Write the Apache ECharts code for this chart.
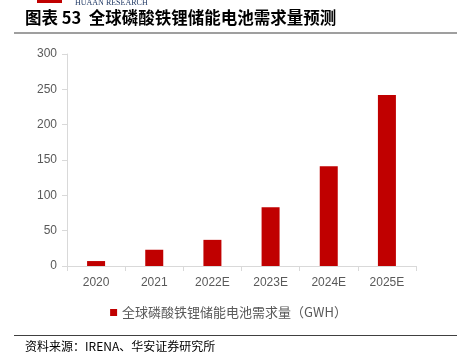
<!DOCTYPE html>
<html><head><meta charset="utf-8">
<script src="https://cdn.jsdelivr.net/npm/echarts@6/dist/echarts.min.js"></script>
<style>html,body{margin:0;padding:0;background:#fff}#c{width:457px;height:362px}</style>
</head><body><div id="c"></div>
<script>
const categories = ['2020','2021','2022E','2023E','2024E','2025E'];
const demand = [7, 23, 37, 83, 141, 242];
const yTicks = [0, 50, 100, 150, 200, 250, 300];
const seriesName = '全球磷酸铁锂储能电池需求量（GWH）';
const titleText = '图表 53  全球磷酸铁锂储能电池需求量预测';
const sourceText = '资料来源：IRENA、华安证券研究所';

const chart = echarts.init(document.getElementById('c'));
chart.setOption({
  animation: false,
  backgroundColor: '#fff',
  grid: {left: 67, right: 41, top: 54, bottom: 96, containLabel: false},
  xAxis: {
    type: 'category', data: categories,
    axisLine: {lineStyle: {color: '#d9d9d9'}},
    axisTick: {show: true, alignWithLabel: false, length: 5, lineStyle: {color: '#d9d9d9'}},
    axisLabel: {color: '#595959', fontSize: 12, margin: 11, fontFamily: 'Liberation Sans, Arial'}
  },
  yAxis: {
    type: 'value', min: yTicks[0], max: yTicks[yTicks.length-1], interval: 50,
    axisLine: {show: true, lineStyle: {color: '#d9d9d9'}},
    axisTick: {show: true, length: 5, lineStyle: {color: '#d9d9d9'}},
    splitLine: {show: false},
    axisLabel: {color: '#595959', fontSize: 12, margin: 10, fontFamily: 'Liberation Sans, Arial'}
  },
  legend: {
    bottom: 38, left: 'center', itemWidth: 7, itemHeight: 7, itemGap: 5,
    icon: 'rect',
    textStyle: {color: '#595959', fontSize: 13, fontFamily: 'Noto Sans CJK SC'},
    data: [seriesName]
  },
  series: [{
    name: seriesName, type: 'bar', data: demand, barWidth: 18,
    itemStyle: {color: '#C00000'}
  }],
  graphic: [
    {type: 'rect', left: 37, top: 0, shape: {width: 25, height: 3}, style: {fill: '#C00000'}},
    {type: 'text', left: 75, top: -1, style: {text: 'HUAAN RESEARCH', fill: '#1f3864', font: '8px "Liberation Serif", serif'}},
    {type: 'text', left: 25, top: 9, style: {text: titleText, fill: '#000', font: 'bold 16.5px "Noto Sans CJK SC"'}},
    {type: 'line', shape: {x1: 14, y1: 33, x2: 457, y2: 33}, style: {stroke: '#7f7f7f', lineWidth: 1.5}},
    {type: 'line', shape: {x1: 14, y1: 335.5, x2: 457, y2: 335.5}, style: {stroke: '#404040', lineWidth: 1}},
    {type: 'text', left: 25, top: 340, style: {text: sourceText, fill: '#000', font: '12px "Noto Sans CJK SC"'}}
  ]
});
</script></body></html>
